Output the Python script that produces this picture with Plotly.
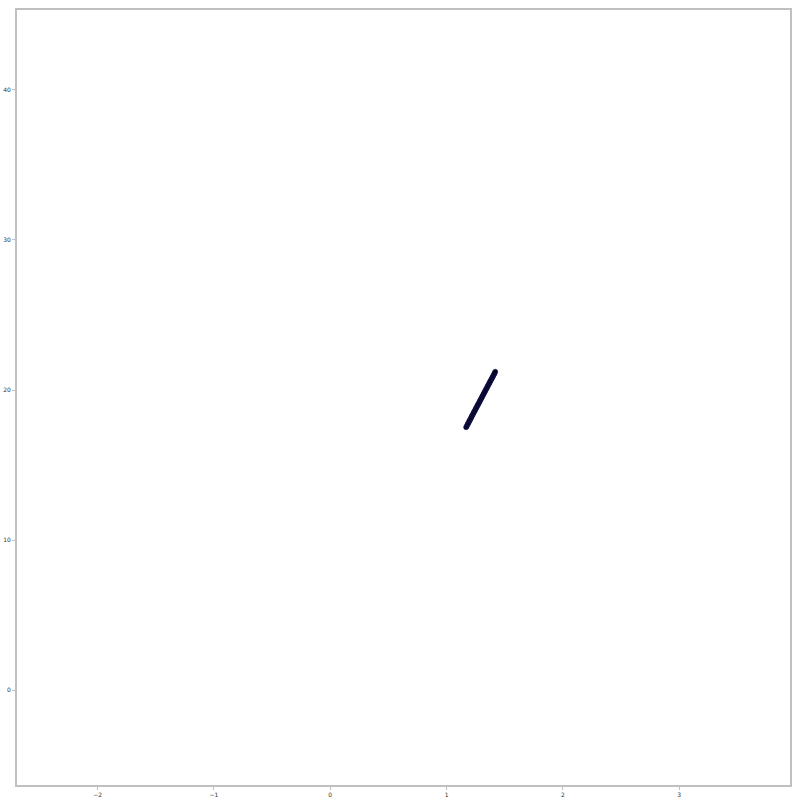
import plotly.graph_objects as go

x_vals = [1.168, 1.175, 1.181, 1.186, 1.192, 1.197, 1.203, 1.208, 1.214, 1.219,
          1.225, 1.231, 1.236, 1.242, 1.248, 1.253, 1.259, 1.265, 1.270, 1.276,
          1.282, 1.287, 1.293, 1.299, 1.304, 1.310, 1.316, 1.321, 1.327, 1.333,
          1.338, 1.344, 1.350, 1.355, 1.361, 1.367, 1.372, 1.378, 1.384, 1.390,
          1.395, 1.401, 1.407, 1.412, 1.418]
y_vals = [17.52, 17.61, 17.72, 17.78, 17.87, 17.96, 18.03, 18.12, 18.20, 18.29,
          18.36, 18.46, 18.53, 18.62, 18.70, 18.79, 18.86, 18.96, 19.03, 19.11,
          19.20, 19.28, 19.37, 19.45, 19.53, 19.62, 19.70, 19.78, 19.87, 19.95,
          20.03, 20.12, 20.20, 20.28, 20.37, 20.45, 20.53, 20.62, 20.70, 20.79,
          20.86, 20.95, 21.04, 21.11, 21.22]

fig = go.Figure(go.Scatter(
    x=x_vals, y=y_vals, mode="markers",
    marker=dict(size=5, color="#000018", line=dict(color="#1a1a5a", width=0.6)),
))

axis_common = dict(
    showline=True, mirror=True, linecolor="#c0c0c0", linewidth=2,
    showgrid=False, zeroline=False, automargin=False,
    ticks="outside", ticklen=3, tickwidth=1, tickcolor="#c0c0c0",
    tickfont=dict(size=6, color="#333333", family="DejaVu Sans"),
)

fig.update_layout(
    width=800, height=800,
    margin=dict(l=17, r=10, t=10, b=15),
    paper_bgcolor="white", plot_bgcolor="white",
    showlegend=False,
    xaxis=dict(range=[-2.693, 3.952], tickvals=[-2, -1, 0, 1, 2, 3], **axis_common),
    yaxis=dict(range=[-6.33, 45.33], tickvals=[0, 10, 20, 30, 40], **axis_common),
)

fig.write_html("out.html")
